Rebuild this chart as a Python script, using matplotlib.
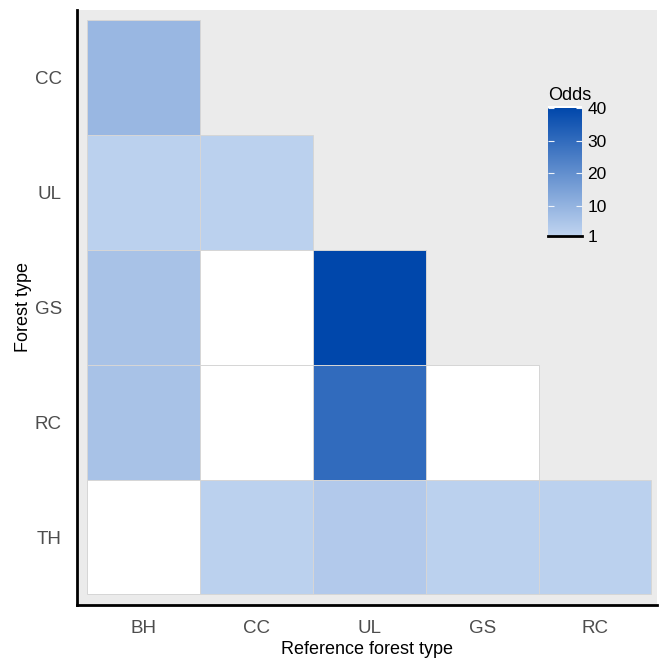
import numpy as np
import matplotlib.pyplot as plt
from matplotlib.colors import LinearSegmentedColormap, Normalize
from matplotlib.cm import ScalarMappable

plt.rcParams['font.family'] = ['Liberation Sans', 'DejaVu Sans']

# categories
ref_types = ['BH', 'CC', 'UL', 'GS', 'RC']
forest_types = ['CC', 'UL', 'GS', 'RC', 'TH']

# odds per forest type (rows) vs reference type (columns)
# None = no tile, 0 = tile shown white (below 1)
odds_cc = [9, None, None, None, None]
odds_ul = [2, 2, None, None, None]
odds_gs = [6, 0, 40, None, None]
odds_rc = [6, 0, 30, 0, None]
odds_th = [0, 2, 4, 2, 2]

rows = [odds_cc, odds_ul, odds_gs, odds_rc, odds_th]

cmap = LinearSegmentedColormap.from_list('odds', ['#C0D4F0', '#0047AB'])
cmap.set_under('white')
norm = Normalize(vmin=1, vmax=40)

fig = plt.figure(figsize=(6.59, 6.61), dpi=100)
ax = fig.add_axes([0.117, 0.085, 0.880, 0.900])
ax.set_facecolor('#EBEBEB')

# tiles
for yi, row in enumerate(rows):
    for xi, v in enumerate(row):
        if v is None:
            continue
        ax.bar(xi, 1, bottom=yi - 0.5, width=1, color=cmap(norm(v)),
               edgecolor='#D6D6D6', linewidth=0.7)

ax.set_xlim(-0.59, 4.55)
ax.set_ylim(4.59, -0.59)
ax.set_xticks(range(len(ref_types)))
ax.set_xticklabels(ref_types)
ax.set_yticks(range(len(forest_types)))
ax.set_yticklabels(forest_types)
ax.tick_params(length=0, labelsize=13.5, labelcolor='#4D4D4D')
ax.tick_params(axis='x', pad=11)
ax.tick_params(axis='y', pad=11)
for s in ['top', 'right']:
    ax.spines[s].set_visible(False)
for s in ['left', 'bottom']:
    ax.spines[s].set_linewidth(2)
    ax.spines[s].set_color('black')
ax.set_xlabel('Reference forest type', fontsize=13, labelpad=3)
ax.set_ylabel('Forest type', fontsize=13, labelpad=2)

cax = fig.add_axes([548 / 659, 1 - 236 / 661, 34 / 659, 130 / 661])
cb = fig.colorbar(ScalarMappable(norm=norm, cmap=cmap), cax=cax,
                  ticks=[1, 10, 20, 30, 40])
cb.outline.set_visible(False)
cax.set_ylim(1, 40.5)
cax.tick_params(direction='in', color='#EEF3FA', length=4, width=0.8,
                left=True, right=True, labelsize=12.5, pad=4)
cax.axhline(1, color='black', lw=2, clip_on=False)
cax.set_title('Odds', fontsize=13, loc='left', pad=4)

fig.savefig('out.png', dpi=100)
